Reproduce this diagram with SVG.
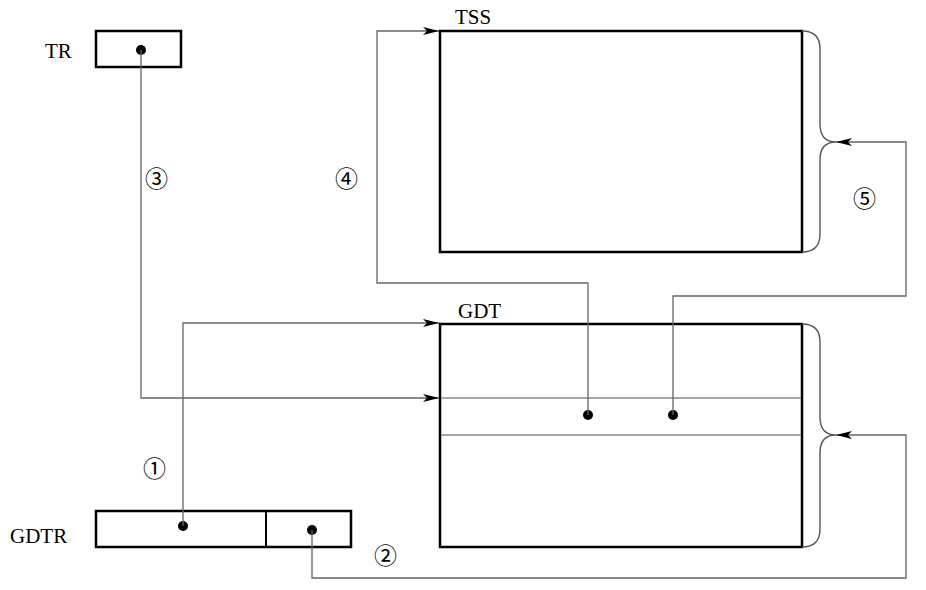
<svg xmlns="http://www.w3.org/2000/svg" width="926" height="590" viewBox="0 0 926 590">
<style>
.box{fill:none;stroke:#000;stroke-width:2.5}
.sep{stroke:#888;stroke-width:1.5;fill:none}
.con{fill:none;stroke:#666;stroke-width:1.3}
.brace{fill:none;stroke:#555;stroke-width:1.4}
.dot{fill:#000}
.lbl{font-family:"Liberation Serif","Times New Roman",serif;font-size:21px;fill:#000}
.num{font-family:"Noto Sans CJK SC","DejaVu Sans",sans-serif;font-size:23px;fill:#000}
</style>
<defs>
<marker id="ah" viewBox="0 0 16 8" refX="16" refY="4" markerWidth="16" markerHeight="8" markerUnits="userSpaceOnUse" orient="auto">
<path d="M0,0 L16,4 L0,8 L4,4 Z" fill="#000"/>
</marker>
</defs>
<g id="TR">
<text class="lbl" x="45" y="58">TR</text>
<rect class="box" x="96" y="31" width="85" height="36"/>
<circle class="dot" cx="141" cy="50" r="5"/>
</g>
<g id="TSS">
<text class="lbl" x="455" y="24">TSS</text>
<rect class="box" x="440" y="31" width="362" height="221"/>
<path class="brace" d="M802,31 Q820,31 820,49 L820,124 Q820,142 836,142 Q820,142 820,160 L820,234 Q820,252 802,252"/>
</g>
<g id="GDT">
<text class="lbl" x="458" y="318">GDT</text>
<rect class="box" x="440" y="324" width="362" height="223"/>
<line class="sep" x1="441" y1="398" x2="801" y2="398"/>
<line class="sep" x1="441" y1="435" x2="801" y2="435"/>
<circle class="dot" cx="588" cy="415" r="5"/>
<circle class="dot" cx="673" cy="415" r="5"/>
<path class="brace" d="M802,324 Q820,324 820,342 L820,417 Q820,435 836,435 Q820,435 820,453 L820,529 Q820,547 802,547"/>
</g>
<g id="GDTR">
<text class="lbl" x="10" y="543">GDTR</text>
<rect class="box" x="96" y="511" width="255" height="36"/>
<line x1="266" y1="511" x2="266" y2="547" stroke="#000" stroke-width="2"/>
<circle class="dot" cx="183" cy="526" r="5"/>
<circle class="dot" cx="312" cy="530" r="5"/>
</g>
<g id="connectors">
<path class="con" d="M141,50 V398 H439" marker-end="url(#ah)"/>
<path class="con" d="M183,526 V323 H439" marker-end="url(#ah)"/>
<path class="con" d="M588,415 V283 H377 V31 H439" marker-end="url(#ah)"/>
<path class="con" d="M673,415 V296 H906 V142 H836" marker-end="url(#ah)"/>
<path class="con" d="M312,530 V578 H906 V435 H836" marker-end="url(#ah)"/>
<text class="num" x="145" y="187">③</text>
<text class="num" x="335" y="187">④</text>
<text class="num" x="853" y="207">⑤</text>
<text class="num" x="143" y="477">①</text>
<text class="num" x="374" y="564">②</text>
</g>
</svg>
